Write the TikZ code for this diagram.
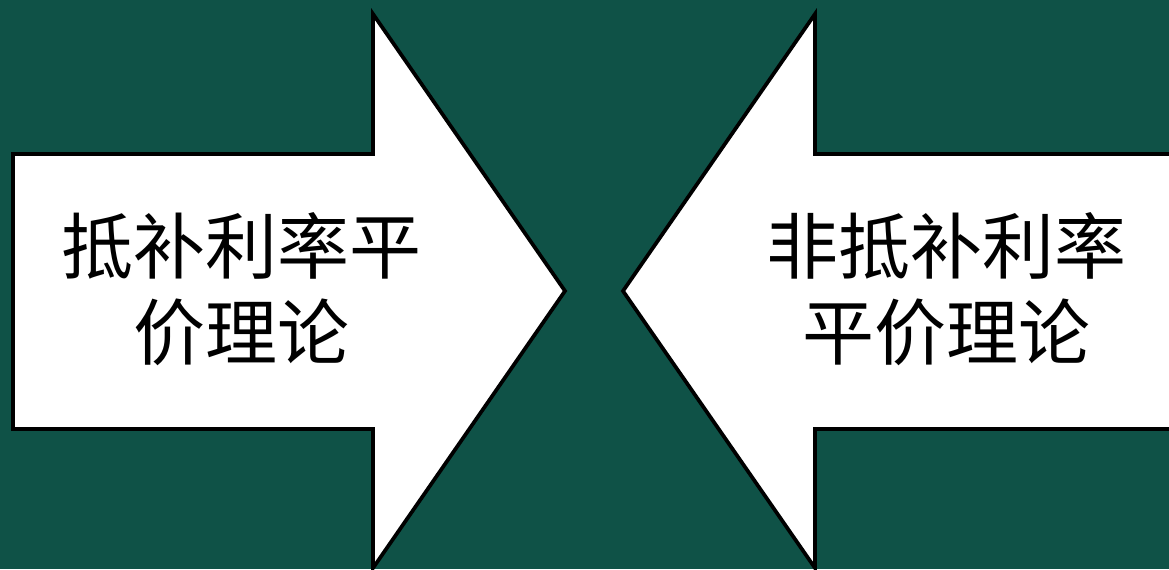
\documentclass[tikz,border=0pt]{standalone}
\usepackage{fontspec}
\newfontfamily\cjk{Noto Sans CJK SC}
\definecolor{bg}{HTML}{0F5247}
\tikzset{
  arrowshape/.style={draw=black, fill=white, line width=2.8pt, line join=miter},
  lbl/.style={font=\cjk\fontsize{54pt}{65pt}\selectfont, align=center, text=black, inner sep=0pt}
}
\begin{document}
\begin{tikzpicture}[x=0.75pt,y=-0.75pt]
\useasboundingbox (0,0) rectangle (1169,569);
\fill[bg] (0,0) rectangle (1169,569);
\draw[arrowshape] (13,154) -- (373,154) -- (373,14) -- (565,291) -- (373,568) -- (373,429) -- (13,429) -- cycle;
\draw[arrowshape] (1185,154) -- (815,154) -- (815,14) -- (623,291) -- (815,568) -- (815,429) -- (1185,429) -- cycle;
\node[lbl] (l) at (241,289) {抵补利率平\\价理论};
\node[lbl] (r) at (946,289) {非抵补利率\\平价理论};
\end{tikzpicture}
\end{document}
